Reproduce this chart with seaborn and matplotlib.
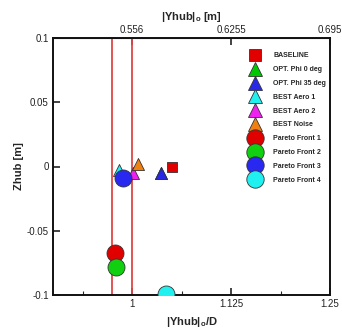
import matplotlib
matplotlib.use("Agg")
import matplotlib.pyplot as plt
import seaborn as sns
import numpy as np
from matplotlib.lines import Line2D

sns.set_style("ticks")
plt.rcParams['font.family'] = ['Liberation Sans', 'DejaVu Sans']

D = 0.556
labels = ["BASELINE", "OPT. Phi 0 deg", "OPT. Phi 35 deg", "BEST Aero 1", "BEST Aero 2",
          "BEST Noise", "Pareto Front 1", "Pareto Front 2", "Pareto Front 3", "Pareto Front 4"]
x_vals = [1.050, 1.036, 1.036, 0.983, 1.001, 1.008, 0.978, 0.980, 0.989, 1.043]
y_vals = [0.000, -0.005, -0.005, -0.003, -0.005, 0.002, -0.067, -0.078, -0.009, -0.099]
colors = ["#e00000", "#00c800", "#2828e6", "#20f0f0", "#f020f0", "#f08010",
          "#e00000", "#10d010", "#2828f0", "#20f0f0"]
markers = ["s", "^", "^", "^", "^", "^", "o", "o", "o", "o"]
sizes = [55, 75, 75, 75, 75, 75, 150, 150, 150, 150]
vlines = [0.975, 1.0]

xticks = [1.0, 1.125, 1.25]
xtick_labels = ["1", "1.125", "1.25"]
top_ticks = [0.556, 0.6255, 0.695]
top_tick_labels = ["0.556", "0.6255", "0.695"]
yticks = [-0.1, -0.05, 0, 0.05, 0.1]
ytick_labels = ["-0.1", "-0.05", "0", "0.05", "0.1"]

fig = plt.figure(figsize=(3.42, 3.33), dpi=100)
ax = fig.add_axes([53/342, 1 - 295/333, (330-53)/342, (295-38)/333])

for xv in vlines:
    ax.axvline(xv, color="#e04545", lw=1.3, zorder=1)

for i in range(len(labels)):
    sns.scatterplot(x=[x_vals[i]], y=[y_vals[i]], marker=markers[i], color=colors[i],
                    s=sizes[i], edgecolor="#333333", linewidth=0.6, ax=ax, zorder=3,
                    label=labels[i], legend=False)

handles = []
for i in range(len(labels)):
    ms = {"s": 8, "^": 9.5, "o": 12.5}[markers[i]]
    handles.append(Line2D([], [], linestyle="none", marker=markers[i], markersize=ms,
                          markerfacecolor=colors[i], markeredgecolor="#333333",
                          markeredgewidth=0.6))
leg = ax.legend(handles, labels, loc="upper left", bbox_to_anchor=(0.705, 0.955),
                frameon=False, prop={"size": 5, "weight": "bold"},
                labelspacing=0.98, handletextpad=2.0, borderaxespad=0, handlelength=1.2)

ax.set_xlim(0.9, 1.25)
ax.set_ylim(-0.1, 0.1)
ax.set_xticks(xticks)
ax.set_xticklabels(xtick_labels)
ax.set_xticks([0.9375, 1.0625, 1.1875], minor=True)
ax.set_yticks(yticks)
ax.set_yticklabels(ytick_labels)
ax.tick_params(direction="in", length=5, width=1.2, labelsize=7, colors="#222222", pad=3)
ax.tick_params(which="minor", direction="in", length=3, width=0.8, bottom=True)
for sp in ax.spines.values():
    sp.set_visible(True)
    sp.set_linewidth(1.4)
    sp.set_color("#111111")

ax.set_xlabel("|Yhub|$_\\mathregular{o}$/D", fontsize=8, fontweight="bold", labelpad=4)
ax.set_ylabel("Zhub [m]", fontsize=8, fontweight="bold", labelpad=2)

sec = ax.secondary_xaxis("top", functions=(lambda v: v * D, lambda v: v / D))
sec.set_xticks(top_ticks)
sec.set_xticklabels(top_tick_labels)
sec.tick_params(direction="in", length=5, width=1.2, labelsize=7, colors="#222222", pad=2)
sec.set_xlabel("|Yhub|$_\\mathregular{o}$ [m]", fontsize=8, fontweight="bold", labelpad=4)

fig.savefig("out.png", dpi=100)
